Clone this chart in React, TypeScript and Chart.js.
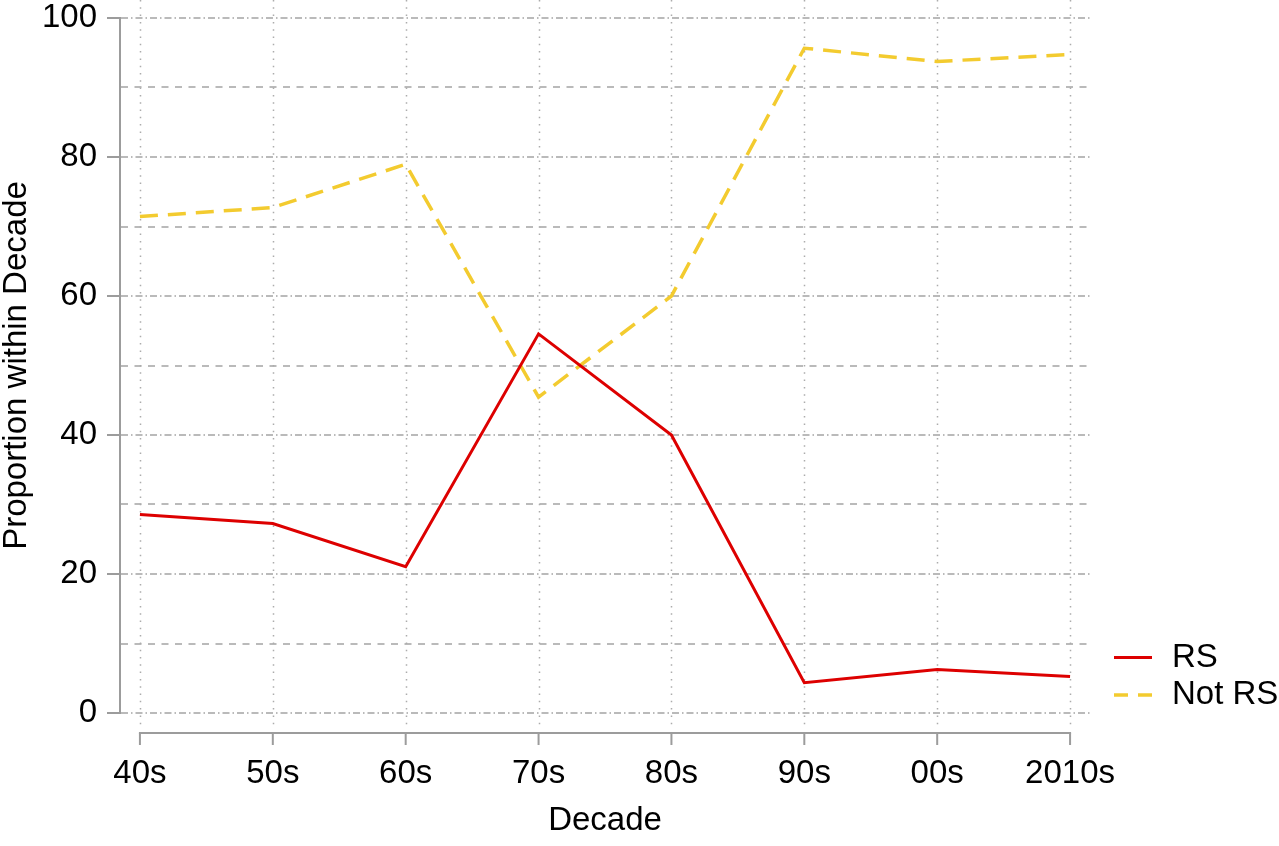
import React, { useEffect, useRef } from "react";
import { Chart, registerables } from "chart.js";

Chart.register(...registerables);

const decades = ["40s", "50s", "60s", "70s", "80s", "90s", "00s", "2010s"];
const rsValues = [28.57, 27.27, 21.05, 54.55, 40.0, 4.35, 6.25, 5.26];
const notRsValues = [71.43, 72.73, 78.95, 45.45, 60.0, 95.65, 93.75, 94.74];
const yTickValues = [0, 10, 20, 30, 40, 50, 60, 70, 80, 90, 100];
const seriesLabels = ["RS", "Not RS"];

const FONT_FAMILY = "'Liberation Sans', Arial, Helvetica, sans-serif";
const FONT_SIZE = 33;
const AXIS_COLOR = "#9c9c9c";
const GRID_COLOR = "#bababa";
const RS_COLOR = "#dd0000";
const NOT_RS_COLOR = "#f3cb2f";

const decorPlugin = {
  id: "decor",
  beforeDatasetsDraw(chart: any) {
    const { ctx, chartArea, scales } = chart;
    const x = scales.x;
    ctx.save();
    ctx.strokeStyle = "#acacac";
    ctx.lineWidth = 1.5;
    ctx.setLineDash([1.5, 5.8]);
    decades.forEach((_, i) => {
      const px = Math.round(x.getPixelForValue(i)) + 0.5;
      ctx.beginPath();
      ctx.moveTo(px, 0);
      ctx.lineTo(px, chartArea.bottom + 13);
      ctx.stroke();
    });
    ctx.setLineDash([]);
    ctx.strokeStyle = AXIS_COLOR;
    ctx.lineWidth = 2;
    const ay = chartArea.bottom + 20;
    const x0 = x.getPixelForValue(0);
    const x1 = x.getPixelForValue(decades.length - 1);
    ctx.beginPath();
    ctx.moveTo(x0 - 1, ay);
    ctx.lineTo(x1 + 1, ay);
    ctx.stroke();
    decades.forEach((_, i) => {
      const px = x.getPixelForValue(i);
      ctx.beginPath();
      ctx.moveTo(px, ay);
      ctx.lineTo(px, ay + 12);
      ctx.stroke();
    });
    ctx.restore();
  },
  afterDraw(chart: any) {
    const { ctx, chartArea } = chart;
    const ds = chart.data.datasets;
    const ys = [chartArea.bottom - 55.5, chartArea.bottom - 18];
    ctx.save();
    ds.forEach((d: any, i: number) => {
      const y = ys[i];
      ctx.strokeStyle = d.borderColor;
      ctx.lineWidth = d.borderWidth;
      ctx.setLineDash(i === 1 ? [14, 10] : []);
      ctx.beginPath();
      ctx.moveTo(chartArea.right + 24, y);
      ctx.lineTo(chartArea.right + 62, y);
      ctx.stroke();
      ctx.setLineDash([]);
      ctx.fillStyle = "#000";
      ctx.font = `${FONT_SIZE}px ${FONT_FAMILY}`;
      ctx.textBaseline = "middle";
      ctx.textAlign = "left";
      ctx.fillText(d.label, chartArea.right + 82, y);
    });
    ctx.restore();
  },
};

export default function App() {
  const canvasRef = useRef<HTMLCanvasElement | null>(null);

  useEffect(() => {
    if (!canvasRef.current) return;
    const font = { family: FONT_FAMILY, size: FONT_SIZE, lineHeight: 1 };
    const chart = new Chart(canvasRef.current, {
      type: "line",
      data: {
        datasets: [
          {
            label: seriesLabels[0],
            data: rsValues.map((v, i) => ({ x: i, y: v })),
            borderColor: RS_COLOR,
            backgroundColor: RS_COLOR,
            borderWidth: 3,
            pointRadius: 0,
            tension: 0,
            fill: false,
          },
          {
            label: seriesLabels[1],
            data: notRsValues.map((v, i) => ({ x: i, y: v })),
            borderColor: NOT_RS_COLOR,
            backgroundColor: NOT_RS_COLOR,
            borderWidth: 3.5,
            borderDash: [18, 10],
            pointRadius: 0,
            tension: 0,
            fill: false,
          },
        ],
      },
      options: {
        animation: false,
        responsive: false,
        devicePixelRatio: 1,
        layout: { padding: { left: 0, right: 189, top: 18, bottom: 0 } },
        plugins: {
          legend: { display: false },
          tooltip: { enabled: false },
        },
        scales: {
          x: {
            type: "linear",
            min: -0.15,
            max: 7.15,
            afterBuildTicks: (s: any) => {
              s.ticks = decades.map((_, i) => ({ value: i }));
            },
            afterFit: (s: any) => {
              s.height = 133;
              s.paddingLeft = 0;
              s.paddingRight = 0;
            },
            ticks: {
              callback: (v: any) => decades[v] ?? "",
              font,
              color: "#000",
              padding: 36,
              maxRotation: 0,
              autoSkip: false,
            },
            grid: { display: false },
            border: { display: false },
            title: {
              display: true,
              text: "Decade",
              font,
              color: "#000",
              padding: { top: 0, bottom: 9 },
            },
          },
          y: {
            min: 0,
            max: 100,
            afterBuildTicks: (s: any) => {
              s.ticks = yTickValues.map((v) => ({ value: v }));
            },
            afterFit: (s: any) => {
              s.width = 120;
              s.paddingTop = 0;
              s.paddingBottom = 0;
            },
            ticks: {
              callback: (v: any) => (v % 20 === 0 ? String(v) : ""),
              font,
              color: "#000",
              padding: 10,
            },
            grid: {
              color: GRID_COLOR,
              lineWidth: 2,
              tickLength: 13,
              tickWidth: 2,
              tickBorderDash: [],
              tickColor: (c: any) =>
                c.tick && c.tick.value % 20 === 0 ? AXIS_COLOR : "rgba(0,0,0,0)",
            },
            border: {
              display: true,
              color: AXIS_COLOR,
              width: 2,
              dash: (c: any) =>
                c.tick && c.tick.value % 20 === 0 ? [7, 3, 1.5, 3] : [7, 6.5],
            },
            title: {
              display: true,
              text: "Proportion within Decade",
              font,
              color: "#000",
              padding: { top: 0, bottom: 0 },
            },
          },
        },
      },
      plugins: [decorPlugin],
    } as any);
    return () => chart.destroy();
  }, []);

  return (
    <div style={{ position: "fixed", left: 0, top: 0, width: 1279, height: 846, background: "#fff" }}>
      <canvas ref={canvasRef} width={1279} height={846} />
    </div>
  );
}
